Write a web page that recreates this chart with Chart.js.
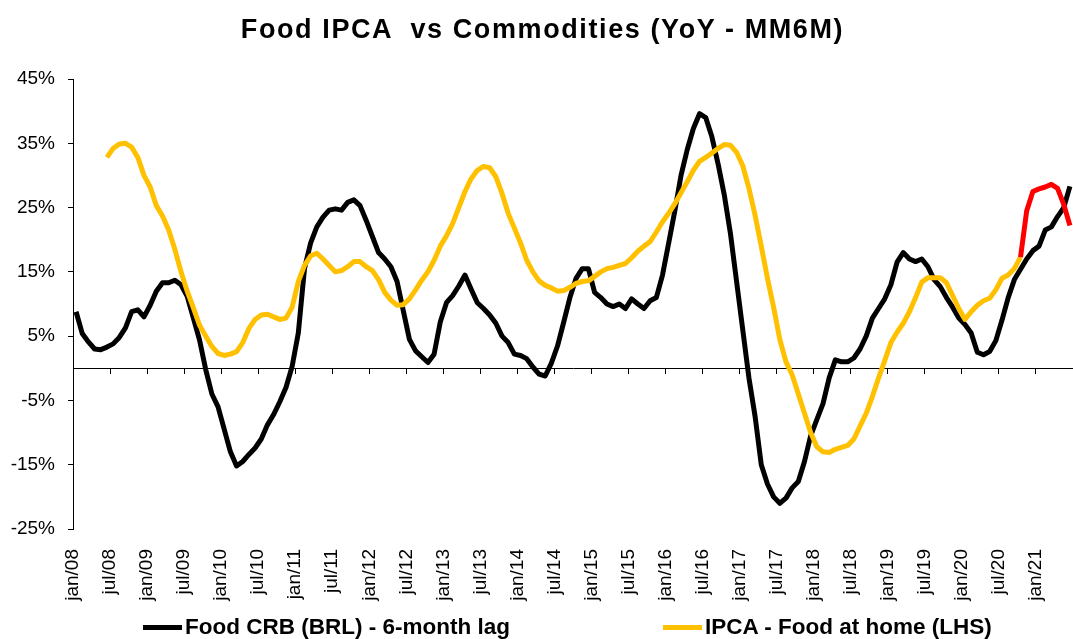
<!DOCTYPE html>
<html>
<head>
<meta charset="utf-8">
<script src="https://cdn.jsdelivr.net/npm/chart.js@4.4.0/dist/chart.umd.min.js"></script>
<style>
  body { margin: 0; background: #fff; }
  #wrap { position: relative; width: 1073px; height: 639px; font-family: "Liberation Sans", Arial, sans-serif; }
  #title { position: absolute; left: 0; top: 11px; width: 1085px; height: 36px; line-height: 36px; text-align: center;
           font-weight: bold; font-size: 27px; letter-spacing: 1.6px; color: #000; white-space: pre; }
  .leg { position: absolute; top: 614px; height: 26px; line-height: 26px; display: flex; align-items: center;
         font-weight: bold; font-size: 22.5px; color: #000; white-space: nowrap; }
  .leg span.line { display: inline-block; width: 39px; height: 5px; margin-right: 3px; }
</style>
</head>
<body>
<div id="wrap">
  <canvas id="myChart" width="1073" height="639"></canvas>
  <div id="title">Food IPCA  vs Commodities (YoY - MM6M)</div>
  <div class="leg" style="left:143px"><span class="line" style="background:#000"></span>Food CRB (BRL) - 6-month lag</div>
  <div class="leg" style="left:663px"><span class="line" style="background:#FFC000"></span>IPCA - Food at home (LHS)</div>
</div>
<script>
// tick labels, one every 6 months starting jan/08
const tickLabels = ['jan/08','jul/08','jan/09','jul/09','jan/10','jul/10','jan/11','jul/11','jan/12','jul/12',
  'jan/13','jul/13','jan/14','jul/14','jan/15','jul/15','jan/16','jul/16','jan/17','jul/17',
  'jan/18','jul/18','jan/19','jul/19','jan/20','jul/20','jan/21'];
const yTickValues = [-25, -15, -5, 5, 15, 25, 35, 45];

// Food CRB (BRL) - 6-month lag, monthly from jan/08
const crbValues = [
  8.8, 5.4, 4.1, 3.0, 2.9, 3.3, 3.8, 4.8, 6.3, 8.8, 9.1, 8.0,
  9.8, 12.0, 13.3, 13.3, 13.7, 13.0, 11.2, 7.8, 4.4, -0.2, -4.0, -6.0,
  -9.5, -13.0, -15.2, -14.5, -13.4, -12.4, -11.0, -8.8, -7.2, -5.2, -3.0, 0.3,
  5.5, 15.5, 19.5, 22.0, 23.5, 24.6, 24.8, 24.6, 25.8, 26.2, 25.3, 23.0,
  20.5, 18.0, 17.0, 15.8, 13.5, 9.0, 4.5, 2.7, 1.8, 0.9, 2.2, 7.2,
  10.2, 11.3, 12.8, 14.5, 12.3, 10.2, 9.3, 8.3, 7.0, 5.0, 4.0, 2.2,
  2.0, 1.5, 0.2, -0.9, -1.2, 0.8, 3.5, 7.2, 11.0, 14.0, 15.5, 15.5,
  11.8, 11.0, 10.0, 9.6, 10.0, 9.3, 10.8, 10.0, 9.3, 10.5, 11.0, 14.5,
  19.5, 24.5, 30.0, 34.0, 37.3, 39.6, 39.0, 36.0, 31.8, 27.0, 21.0, 13.5,
  6.0, -1.5, -7.5, -15.0, -18.0, -20.0, -21.0, -20.2, -18.6, -17.6, -14.5, -10.5,
  -8.0, -5.5, -1.5, 1.3, 1.0, 1.0, 1.6, 3.0, 5.0, 7.8, 9.3, 10.8,
  13.0, 16.5, 18.0, 17.0, 16.6, 17.0, 15.8, 13.8, 12.7, 11.0, 9.5, 7.8,
  6.8, 5.5, 2.5, 2.1, 2.6, 4.3, 7.5, 11.0, 13.8, 15.4, 17.0, 18.3,
  19.0, 21.5, 22.0, 23.6, 25.0, 28.3
];

// IPCA - Food at home, monthly from jun/08 (month index 5)
const ipcaStart = 5;
const ipcaValues = [
  32.8, 34.2, 34.9, 35.0, 34.4, 32.8, 30.0,
  28.2, 25.3, 23.7, 21.5, 18.5, 15.0, 12.0, 9.4, 6.7, 5.0, 3.4, 2.3,
  2.0, 2.2, 2.6, 4.0, 6.2, 7.6, 8.3, 8.4, 8.0, 7.6, 7.8, 9.5,
  13.5, 16.0, 17.5, 17.9, 17.0, 16.0, 15.0, 15.2, 15.8, 16.6, 16.6, 15.8,
  15.2, 13.8, 11.8, 10.6, 9.8, 9.9, 10.8, 12.2, 13.7, 15.0, 16.8, 19.0,
  20.6, 22.5, 25.0, 27.5, 29.5, 30.8, 31.4, 31.2, 29.8, 27.2, 24.1, 21.8,
  19.5, 16.8, 15.0, 13.6, 12.9, 12.5, 12.0, 12.1, 12.6, 13.2, 13.5, 13.6,
  14.3, 15.0, 15.5, 15.7, 16.0, 16.3, 17.2, 18.2, 19.0, 19.7, 21.2, 22.8,
  24.1, 25.6, 27.3, 29.0, 30.8, 32.2, 32.8, 33.5, 34.2, 34.8, 34.7, 33.6,
  31.5, 28.0, 23.8, 19.0, 14.0, 9.5, 4.5, 1.0, -1.0, -4.0, -7.0, -10.0,
  -12.2, -13.0, -13.1, -12.6, -12.3, -12.0, -11.0, -9.0, -7.0, -4.4, -1.5, 1.2,
  4.0, 5.6, 7.0, 8.8, 11.0, 13.4, 14.1, 14.1, 14.1, 13.3, 11.3, 9.3,
  7.6, 8.8, 9.8, 10.5, 10.9, 12.2, 14.0, 14.5, 15.5, 17.3
];

// IPCA - latest months (red), from oct/20 (month index 153)
const ipcaRecentStart = 153;
const ipcaRecent = [17.3, 24.5, 27.5, 27.9, 28.2, 28.6, 28.0, 25.5, 22.2];

// build points: each month sits in the middle of its month slot
function toPoints(values, start) {
  return values.map((v, i) => ({ x: start + i + 0.5, y: v }));
}
const tickMonths = tickLabels.map((_, i) => i * 6);

let gdata = {
  datasets: [
    { label: 'recent', data: toPoints(ipcaRecent, ipcaRecentStart), borderColor: '#FF0000', order: 0 },
    { label: 'IPCA - Food at home (LHS)', data: toPoints(ipcaValues, ipcaStart), borderColor: '#FFC000', order: 1 },
    { label: 'Food CRB (BRL) - 6-month lag', data: toPoints(crbValues, 0), borderColor: '#000000', order: 2 },
  ],
};
gdata.datasets.forEach(ds => {
  ds.borderWidth = 5;
  ds.pointRadius = 0;
  ds.tension = 0;
  ds.fill = false;
  ds.borderJoinStyle = 'round';
});

Chart.defaults.font.family = '"Liberation Sans", Arial, sans-serif';
Chart.defaults.color = '#000';

let config = {
  type: 'line',
  data: gdata,
  options: {
    responsive: false,
    animation: false,
    devicePixelRatio: 1,
    layout: { padding: { top: 79, right: 0, bottom: 0, left: 0 } },
    plugins: { legend: { display: false }, title: { display: false }, tooltip: { enabled: false } },
    scales: {
      x: {
        type: 'linear',
        position: 'bottom',
        min: 0,
        max: 162,
        afterBuildTicks: (scale) => { scale.ticks = tickMonths.map(v => ({ value: v })); },
        afterFit: (scale) => { scale.height = 110; },
        grid: { display: false },
        border: { display: false },
        ticks: {
          autoSkip: false,
          minRotation: 90,
          maxRotation: 90,
          padding: 12,
          font: { size: 19 },
          callback: (value, index) => tickLabels[index],
        },
      },
      x2: {
        type: 'linear',
        position: { y: 0 },
        min: 0,
        max: 162,
        afterBuildTicks: (scale) => { scale.ticks = tickMonths.map(v => ({ value: v })); },
        grid: { drawOnChartArea: false, drawTicks: true, tickLength: 5, color: '#000', lineWidth: 1 },
        border: { display: true, color: '#000', width: 1 },
        ticks: { display: false },
      },
      y: {
        position: 'left',
        min: -25,
        max: 45,
        afterBuildTicks: (scale) => { scale.ticks = yTickValues.map(v => ({ value: v })); },
        afterFit: (scale) => { scale.width = 73; },
        grid: { drawOnChartArea: false, drawTicks: true, tickLength: 5, color: '#000' },
        border: { display: true, color: '#000', width: 1 },
        ticks: { padding: 13, font: { size: 19 }, callback: (v) => v + '%' },
      },
    },
  },
};

let myChart = new Chart(document.getElementById('myChart'), config);
</script>
</body>
</html>
